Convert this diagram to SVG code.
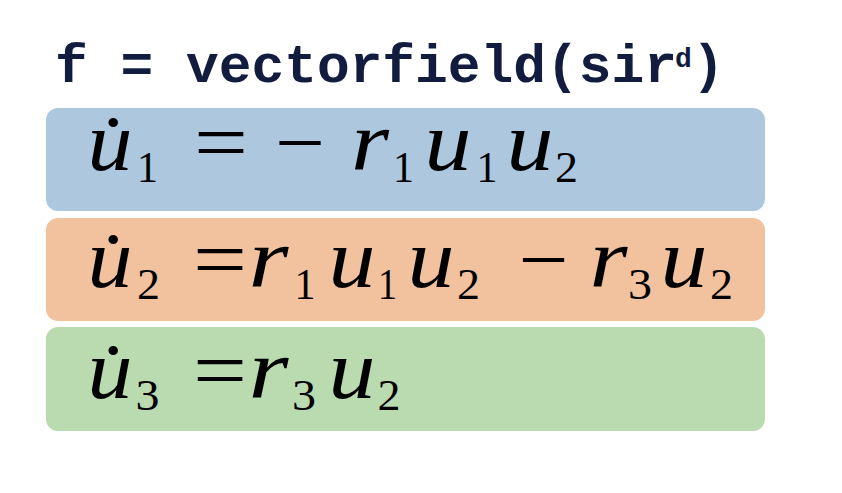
<svg xmlns="http://www.w3.org/2000/svg" width="842" height="493" viewBox="0 0 842 493">
<style>
.code{font-family:"Liberation Mono","Courier New",monospace;font-weight:bold;fill:#121c3f}
.v,.s,.op{font-family:'Liberation Serif','DejaVu Serif',serif;fill:#000;text-anchor:middle}
.v{font-style:italic;font-size:84px}
.s{font-size:45px}
.op{font-size:82px}
</style>
<rect width="842" height="493" fill="#ffffff"/>
<g id="header">
<text class="code" x="55" y="82" font-size="54" textLength="622" lengthAdjust="spacingAndGlyphs">f = vectorfield(sir</text>
<text class="code" x="675" y="67" font-size="28">d</text>
<text class="code" x="692" y="82" font-size="54">)</text>
</g>
<g id="eq1">
<rect x="46" y="108" width="719" height="103" rx="12" fill="#adc7de"/>
<text class="v" x="110" y="170" textLength="45" lengthAdjust="spacingAndGlyphs">u&#x307;</text>
<text class="s" x="147.5" y="182" textLength="21" lengthAdjust="spacingAndGlyphs">1</text>
<text class="op" x="221" y="170" textLength="54" lengthAdjust="spacingAndGlyphs">=</text>
<text class="op" x="300" y="170" textLength="50" lengthAdjust="spacingAndGlyphs">&#x2212;</text>
<text class="v" x="370" y="170" textLength="38" lengthAdjust="spacingAndGlyphs">r</text>
<text class="s" x="403.5" y="182" textLength="21" lengthAdjust="spacingAndGlyphs">1</text>
<text class="v" x="448" y="170" textLength="47" lengthAdjust="spacingAndGlyphs">u</text>
<text class="s" x="487" y="182" textLength="21" lengthAdjust="spacingAndGlyphs">1</text>
<text class="v" x="530" y="170" textLength="47" lengthAdjust="spacingAndGlyphs">u</text>
<text class="s" x="566.5" y="182" textLength="23" lengthAdjust="spacingAndGlyphs">2</text>
</g>
<g id="eq2">
<rect x="46" y="218" width="719" height="103" rx="12" fill="#f2c19e"/>
<text class="v" x="110" y="287" textLength="45" lengthAdjust="spacingAndGlyphs">u&#x307;</text>
<text class="s" x="148.5" y="299" textLength="23" lengthAdjust="spacingAndGlyphs">2</text>
<text class="op" x="220" y="287" textLength="54" lengthAdjust="spacingAndGlyphs">=</text>
<text class="v" x="268.5" y="287" textLength="40" lengthAdjust="spacingAndGlyphs">r</text>
<text class="s" x="305" y="299" textLength="21" lengthAdjust="spacingAndGlyphs">1</text>
<text class="v" x="352" y="287" textLength="47" lengthAdjust="spacingAndGlyphs">u</text>
<text class="s" x="387.5" y="299" textLength="19" lengthAdjust="spacingAndGlyphs">1</text>
<text class="v" x="431" y="287" textLength="47" lengthAdjust="spacingAndGlyphs">u</text>
<text class="s" x="468.5" y="299" textLength="23" lengthAdjust="spacingAndGlyphs">2</text>
<text class="op" x="543.5" y="287" textLength="50" lengthAdjust="spacingAndGlyphs">&#x2212;</text>
<text class="v" x="608.5" y="287" textLength="38" lengthAdjust="spacingAndGlyphs">r</text>
<text class="s" x="640" y="299" textLength="24" lengthAdjust="spacingAndGlyphs">3</text>
<text class="v" x="684" y="287" textLength="47" lengthAdjust="spacingAndGlyphs">u</text>
<text class="s" x="721.5" y="299" textLength="23" lengthAdjust="spacingAndGlyphs">2</text>
</g>
<g id="eq3">
<rect x="46" y="327" width="719" height="104" rx="12" fill="#badab0"/>
<text class="v" x="110" y="398" textLength="45" lengthAdjust="spacingAndGlyphs">u&#x307;</text>
<text class="s" x="147.5" y="410" textLength="24" lengthAdjust="spacingAndGlyphs">3</text>
<text class="op" x="220" y="398" textLength="54" lengthAdjust="spacingAndGlyphs">=</text>
<text class="v" x="268.5" y="398" textLength="40" lengthAdjust="spacingAndGlyphs">r</text>
<text class="s" x="304" y="410" textLength="24" lengthAdjust="spacingAndGlyphs">3</text>
<text class="v" x="352" y="398" textLength="47" lengthAdjust="spacingAndGlyphs">u</text>
<text class="s" x="389" y="410" textLength="23" lengthAdjust="spacingAndGlyphs">2</text>
</g>
<g id="connectors"/>
</svg>
